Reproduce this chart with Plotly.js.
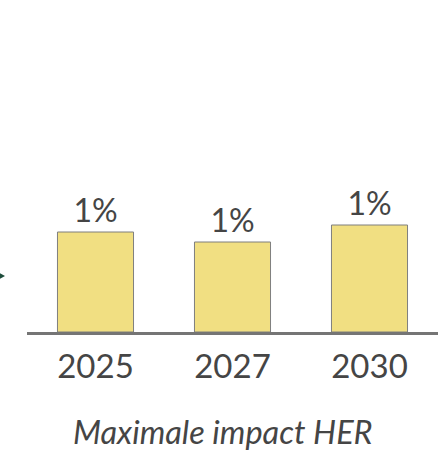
<!DOCTYPE html>
<html>
<head>
<meta charset="utf-8">
<script src="https://cdn.plot.ly/plotly-3.0.1.min.js"></script>
<style>html,body{margin:0;padding:0;background:#fff;}#chart{width:442px;height:450px;}</style>
</head>
<body>
<div id="chart"></div>
<script>
const years = ["2025", "2027", "2030"];
const impact = [0.0100, 0.0090, 0.0107];
const chartTitle = "Maximale impact HER";

const trace = {
  type: "bar",
  x: years,
  y: impact,
  width: 0.555,
  marker: {color: "#F1DF82", line: {color: "#7f7f7f", width: 1}},
  texttemplate: "%{y:.0%}",
  textposition: "outside",
  cliponaxis: false,
  textfont: {family: "Lato, sans-serif", size: 32, color: "#454545"},
  hoverinfo: "skip"
};

function px(xp) { return (xp - 27) / 411; }
function py(yp) { return (332 - yp) / 332; }

const layout = {
  width: 442, height: 450,
  margin: {l: 27, r: 4, t: 0, b: 118},
  paper_bgcolor: "#ffffff", plot_bgcolor: "#ffffff",
  showlegend: false,
  bargap: 0.445,
  xaxis: {
    type: "category",
    range: [-0.5, 2.5],
    showline: true, linecolor: "#757575", linewidth: 3,
    showgrid: false, zeroline: false, ticks: "",
    tickfont: {family: "Lato, sans-serif", size: 33, color: "#454545"},
    ticklabelstandoff: 3
  },
  yaxis: {range: [0, 0.0332], visible: false, showgrid: false, zeroline: false},
  annotations: [
    {text: "<i>" + chartTitle + "</i>", xref: "paper", yref: "paper", x: px(223), y: py(431), yanchor: "middle", xanchor: "center",
     showarrow: false, font: {family: "Lato, sans-serif", size: 32.5, color: "#454545"}}
  ],
  shapes: [
    {type: "path", xref: "paper", yref: "paper",
     path: "M " + px(5) + " " + py(276) + " L " + px(-3) + " " + py(271.5) + " L " + px(-3) + " " + py(280.5) + " Z",
     fillcolor: "#1e4d3c", line: {width: 0}}
  ]
};

Plotly.newPlot("chart", [trace], layout, {displayModeBar: false, staticPlot: true});
</script>
</body>
</html>
